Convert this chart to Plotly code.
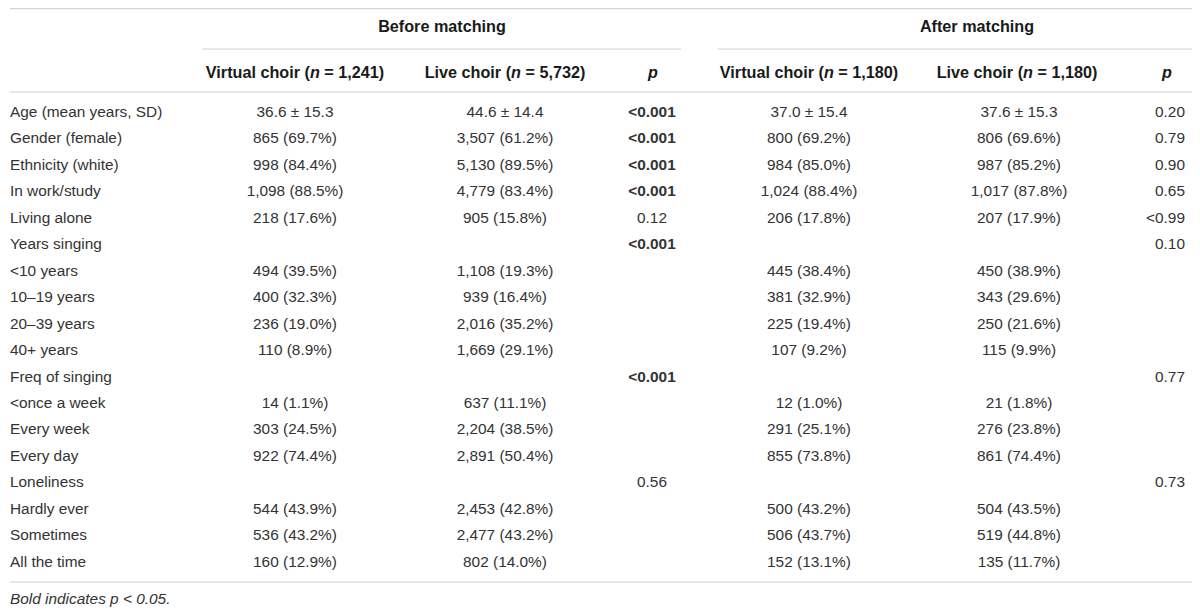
import plotly.graph_objects as go

# table contents
row_labels = ["Age (mean years, SD)", "Gender (female)", "Ethnicity (white)", "In work/study",
              "Living alone", "Years singing", "&lt;10 years", "10–19 years", "20–39 years",
              "40+ years", "Freq of singing", "&lt;once a week", "Every week", "Every day",
              "Loneliness", "Hardly ever", "Sometimes", "All the time"]

before_virtual = ["36.6 ± 15.3", "865 (69.7%)", "998 (84.4%)", "1,098 (88.5%)", "218 (17.6%)", "",
                  "494 (39.5%)", "400 (32.3%)", "236 (19.0%)", "110 (8.9%)", "",
                  "14 (1.1%)", "303 (24.5%)", "922 (74.4%)", "",
                  "544 (43.9%)", "536 (43.2%)", "160 (12.9%)"]
before_live = ["44.6 ± 14.4", "3,507 (61.2%)", "5,130 (89.5%)", "4,779 (83.4%)", "905 (15.8%)", "",
               "1,108 (19.3%)", "939 (16.4%)", "2,016 (35.2%)", "1,669 (29.1%)", "",
               "637 (11.1%)", "2,204 (38.5%)", "2,891 (50.4%)", "",
               "2,453 (42.8%)", "2,477 (43.2%)", "802 (14.0%)"]
before_p = ["<b>&lt;0.001</b>", "<b>&lt;0.001</b>", "<b>&lt;0.001</b>", "<b>&lt;0.001</b>", "0.12",
            "<b>&lt;0.001</b>", "", "", "", "", "<b>&lt;0.001</b>", "", "", "", "0.56", "", "", ""]

after_virtual = ["37.0 ± 15.4", "800 (69.2%)", "984 (85.0%)", "1,024 (88.4%)", "206 (17.8%)", "",
                 "445 (38.4%)", "381 (32.9%)", "225 (19.4%)", "107 (9.2%)", "",
                 "12 (1.0%)", "291 (25.1%)", "855 (73.8%)", "",
                 "500 (43.2%)", "506 (43.7%)", "152 (13.1%)"]
after_live = ["37.6 ± 15.3", "806 (69.6%)", "987 (85.2%)", "1,017 (87.8%)", "207 (17.9%)", "",
              "450 (38.9%)", "343 (29.6%)", "250 (21.6%)", "115 (9.9%)", "",
              "21 (1.8%)", "276 (23.8%)", "861 (74.4%)", "",
              "504 (43.5%)", "519 (44.8%)", "135 (11.7%)"]
after_p = ["0.20", "0.79", "0.90", "0.65", "&lt;0.99", "0.10", "", "", "", "",
           "0.77", "", "", "", "0.73", "", "", ""]

group_titles = ["Before matching", "After matching"]
col_titles = ["Virtual choir (<i>n</i> = 1,241)", "Live choir (<i>n</i> = 5,732)", "<i>p</i>",
              "Virtual choir (<i>n</i> = 1,180)", "Live choir (<i>n</i> = 1,180)", "<i>p</i>"]
footnote = "<i>Bold indicates p &lt; 0.05.</i>"

TXT = "#333333"
HEAD = "#1a1a1a"
LINE = "#d2d2d2"
FONT = "Liberation Sans, Arial, sans-serif"
FS = 15.4
FS_HEAD = 16.2

# page body has an 8px margin, so the plot is offset by that much
OFF = 8
ROW0, STEP = 113, 26.47


def row_of(px):
    return (px - ROW0) / STEP


rows = list(range(len(row_labels)))
fig = go.Figure()

# row labels, left aligned
fig.add_trace(go.Scatter(x=[10] * len(rows), y=rows, text=row_labels, mode="text",
                         textposition="middle right",
                         textfont=dict(family=FONT, size=FS, color=TXT)))

centred = [(295, before_virtual), (505, before_live), (652, before_p),
           (809, after_virtual), (1019, after_live)]
for cx, vals in centred:
    fig.add_trace(go.Scatter(x=[cx] * len(rows), y=rows, text=vals, mode="text",
                             textposition="middle center",
                             textfont=dict(family=FONT, size=FS, color=TXT)))
# last p column is right aligned
fig.add_trace(go.Scatter(x=[1185] * len(rows), y=rows, text=after_p, mode="text",
                         textposition="middle left",
                         textfont=dict(family=FONT, size=FS, color=TXT)))

# header row with column titles
head_x = [295, 505, 653, 809, 1017, 1167]
fig.add_trace(go.Scatter(x=head_x, y=[row_of(74)] * len(head_x),
                         text=["<b>" + t + "</b>" for t in col_titles], mode="text",
                         textposition="middle center",
                         textfont=dict(family=FONT, size=FS_HEAD, color=HEAD)))
# group titles
fig.add_trace(go.Scatter(x=[442, 977], y=[row_of(28)] * 2,
                         text=["<b>" + t + "</b>" for t in group_titles], mode="text",
                         textposition="middle center",
                         textfont=dict(family=FONT, size=FS_HEAD, color=HEAD)))
# footnote
fig.add_trace(go.Scatter(x=[10], y=[row_of(600)], text=[footnote], mode="text",
                         textposition="middle right",
                         textfont=dict(family=FONT, size=FS, color=TXT)))

# rules
line_style = dict(color=LINE, width=1.2)
for x0, x1, py in [(10, 1193, 8.6), (202, 681, 49), (718, 1193, 49),
                   (10, 1193, 92), (10, 1193, 582)]:
    fig.add_shape(type="line", x0=x0, x1=x1, y0=row_of(py), y1=row_of(py), line=line_style)

fig.update_layout(
    width=1200 - OFF, height=612 - OFF,
    margin=dict(l=0, r=0, t=0, b=0),
    plot_bgcolor="white", paper_bgcolor="white",
    showlegend=False,
    xaxis=dict(range=[OFF, 1200], visible=False, fixedrange=True),
    yaxis=dict(range=[row_of(612), row_of(OFF)], visible=False, fixedrange=True),
)

fig.write_html("out.html")
